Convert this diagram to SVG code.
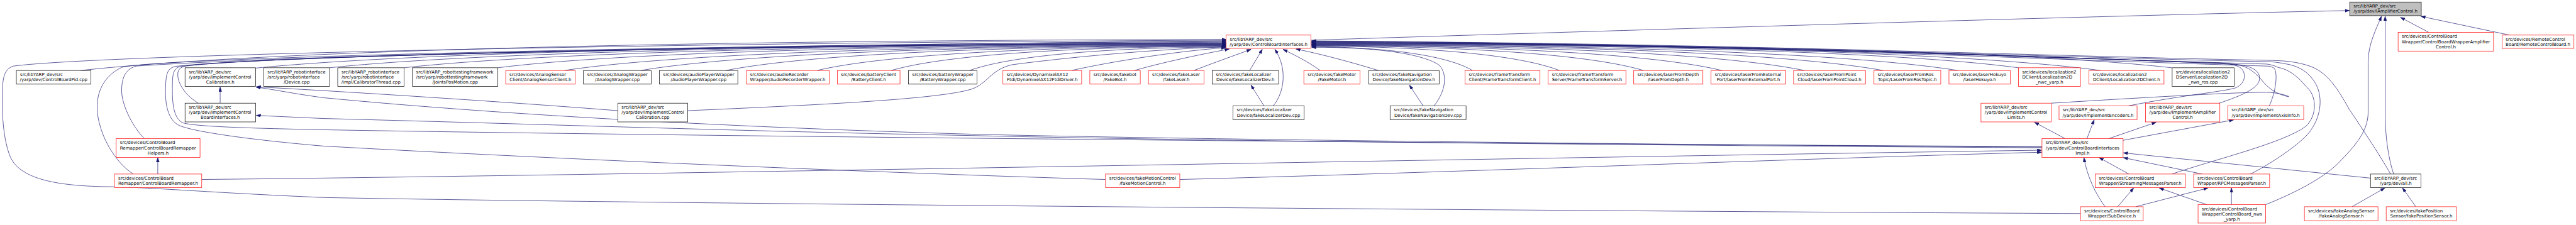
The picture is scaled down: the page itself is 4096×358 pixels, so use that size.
<svg xmlns="http://www.w3.org/2000/svg" width="4096" height="358" viewBox="0 0 4096 358">
<style>
.n rect{fill:#fff;stroke-width:1.3}
.n rect.r{stroke:#ff0000}
.n rect.b{stroke:#000}
.n rect.g{fill:#bfbfbf;stroke:#000}
.n text{font-family:"DejaVu Sans","Liberation Sans",sans-serif;font-size:13px;fill:#000}
.n text.c{text-anchor:middle}
#edges path{fill:none;stroke:#191970;stroke-width:1.3;marker-end:url(#ah)}
</style>
<defs>
<marker id="ah" markerUnits="userSpaceOnUse" markerWidth="14" markerHeight="10" refX="13" refY="4.5" orient="auto">
<path d="M0,0 L13,4.5 L0,9 z" fill="#191970" stroke="#191970" stroke-width="1"/>
</marker>
</defs>
<rect x="0" y="0" width="4096" height="358" fill="#fff"/>
<g transform="scale(0.54187)">
<g id="edges">
<path d="M236,207 C740,152 1917,118 3598,116"/>
<path d="M750,200 C1177,157 2174,130 3598,128"/>
<path d="M967,199 C1362,157 2283,131 3598,129"/>
<path d="M1186,199 C1548,158 2392,132 3598,130"/>
<path d="M1461,199 C1782,158 2530,133 3598,131"/>
<path d="M1656,207 C1947,162 2627,134 3598,132"/>
<path d="M1880,207 C2138,163 2739,135 3598,133"/>
<path d="M2130,207 C2350,163 2864,136 3598,134"/>
<path d="M2397,207 C2577,164 2998,137 3598,135"/>
<path d="M2615,207 C2762,164 3107,138 3598,136"/>
<path d="M2845,207 C2958,166 3222,140 3598,138"/>
<path d="M3144,207 C3250,183 3450,150 3597,140"/>
<path d="M3329,207 C3400,186 3520,160 3607,144"/>
<path d="M3503,207 C3560,185 3630,160 3671,145"/>
<path d="M3667,207 L3704,145"/>
<path d="M3736,311 C3770,270 3778,200 3741,145"/>
<path d="M3709,311 L3671,250"/>
<path d="M3874,207 C3840,182 3800,162 3765,145"/>
<path d="M4045,207 C3950,178 3860,155 3803,144"/>
<path d="M424,407 C395,380 355,310 357,262 C358,225 370,202 400,194 C900,160 2400,128 3598,122"/>
<path d="M391,511 C350,485 300,420 287,340 C278,280 300,225 357,198 C420,176 1500,140 3598,120"/>
<path d="M6105,627 C5000,622 2000,600 950,580 C600,565 450,550 303,548 C180,545 60,530 30,460 C5,400 5,300 8,250 C10,215 20,200 40,194 C300,160 2000,125 3598,118"/>
<path d="M3244,527 C2500,505 1500,460 950,429 C750,412 570,388 525,368 C490,350 484,300 486,255 C487,215 492,200 515,195 C800,160 2500,130 3598,124"/>
<path d="M5992,430 C4500,424 2000,400 950,381 C750,377 565,372 535,360 C508,345 505,300 506,250 C506,215 510,200 530,195 C800,160 2500,130 3598,126"/>
<path d="M582,303 C545,280 525,250 522,225 C520,205 527,198 545,194 C800,160 2500,130 3598,127"/>
<path d="M5992,432 C5000,426 3500,410 2850,394 C2200,375 1500,340 950,287 C860,275 800,262 752,256"/>
<path d="M5992,434 C5000,428 3500,414 2850,398 C2200,386 1500,362 950,348 C860,344 800,341 752,339"/>
<path d="M1813,325 C1500,300 1000,268 752,255"/>
<path d="M2018,325 C2400,308 2750,292 2850,262 C2900,245 2905,205 2970,190 C3200,160 3450,142 3597,138"/>
<path d="M646,303 L646,256"/>
<path d="M463,511 L463,463"/>
<path d="M592,527 C1800,515 4200,468 5991,441"/>
<path d="M3462,527 C4300,505 5300,465 5991,447"/>
<path d="M4321,207 C4250,165 4085,139 3849,137"/>
<path d="M4576,207 C4467,164 4212,137 3849,135"/>
<path d="M4823,207 C4677,163 4336,136 3849,134"/>
<path d="M5053,207 C4872,163 4451,135 3849,133"/>
<path d="M5295,207 C5078,162 4572,134 3849,132"/>
<path d="M5526,207 C5274,161 4688,133 3849,131"/>
<path d="M5745,207 C5461,161 4797,132 3849,130"/>
<path d="M5923,199 C5612,157 4886,131 3849,129"/>
<path d="M6164,207 C5817,160 5007,130 3849,128"/>
<path d="M6373,199 C5994,156 5111,129 3849,127"/>
<path d="M4208,311 C4240,270 4250,222 4224,192 C4180,160 4050,138 3849,139"/>
<path d="M4176,311 L4136,250"/>
<path d="M6245,311 C6400,280 6520,270 6560,258 C6592,245 6592,210 6573,198 C6555,188 6530,185 6500,184 C6000,170 5000,128 3849,124"/>
<path d="M6019,303 C6200,292 6560,270 6650,271 C6700,272 6740,292 6700,280 C6670,270 6655,255 6645,245 C6620,215 6600,195 6560,189 C6200,172 5000,128 3849,125"/>
<path d="M6512,303 C6580,280 6625,260 6630,235 C6635,205 6600,192 6560,189 C6200,172 5000,128 3849,126"/>
<path d="M6659,311 C6678,270 6685,215 6673,200 C6665,195 6658,194 6650,194 C6000,175 5000,128 3849,120"/>
<path d="M7015,511 C6980,450 6920,360 6893,320 C6860,260 6830,215 6783,196 C6740,180 6700,178 6650,177 C6000,165 5000,125 3849,121"/>
<path d="M6603,511 C6640,495 6760,420 6783,379 C6810,340 6820,280 6789,236 C6770,210 6750,198 6720,190 C6690,184 6670,181 6650,181 C6000,168 5000,126 3849,122"/>
<path d="M6373,511 C6500,468 6700,420 6766,371 C6800,340 6800,280 6766,253 C6740,220 6710,202 6685,198 C6670,191 6660,189 6650,188 C6000,170 5000,127 3849,123"/>
<path d="M3847,118 C4400,100 6200,45 6894,31"/>
<path d="M7127,95 L7044,51"/>
<path d="M7364,103 L7104,48"/>
<path d="M7024,511 C7010,470 7000,410 6999,340 L6999,48"/>
<path d="M6648,601 C6750,560 6830,515 6870,470 C6930,410 6949,370 6949,330 L6949,180 C6949,130 6975,80 6988,48"/>
<path d="M6956,523 L6231,449"/>
<path d="M6462,511 L6231,463"/>
<path d="M6247,511 L6160,463"/>
<path d="M6177,607 C6150,570 6125,520 6115,463"/>
<path d="M6214,607 L6261,552"/>
<path d="M6267,607 L6479,552"/>
<path d="M6476,601 L6336,552"/>
<path d="M6548,601 L6548,552"/>
<path d="M6902,607 L6998,552"/>
<path d="M7089,607 L7050,552"/>
<path d="M6060,407 L5970,359"/>
<path d="M6124,407 L6145,352"/>
<path d="M6188,407 L6327,359"/>
<path d="M6230,412 L6554,352"/>
</g>
<g id="n_iamp" class="n"><rect class="g" x="6895" y="6" width="210" height="40"/><text x="6906" y="22.5">src/libYARP_dev/src</text><text class="c" x="7000" y="37.5">/yarp/dev/IAmplifierControl.h</text></g>
<g id="n_cbi" class="n"><rect class="r" x="3598" y="103" width="249" height="39"/><text x="3609" y="119.5">src/libYARP_dev/src</text><text class="c" x="3722.5" y="134.5">/yarp/dev/ControlBoardInterfaces.h</text></g>
<g id="n_cbwamp" class="n"><rect class="r" x="7037" y="95" width="280" height="55"/><text x="7048" y="111.5">src/devices/ControlBoard</text><text x="7048" y="126.5">Wrapper/ControlBoardWrapperAmplifier</text><text class="c" x="7177" y="141.5">Control.h</text></g>
<g id="n_rcb" class="n"><rect class="r" x="7342" y="103" width="211" height="39"/><text x="7353" y="119.5">src/devices/RemoteControl</text><text class="c" x="7447.5" y="134.5">Board/RemoteControlBoard.h</text></g>
<g id="n_pid" class="n"><rect class="b" x="48" y="207" width="219" height="40"/><text x="59" y="223.5">src/libYARP_dev/src</text><text class="c" x="157.5" y="238.5">/yarp/dev/ControlBoardPid.cpp</text></g>
<g id="n_icc_h" class="n"><rect class="b" x="543" y="199" width="207" height="55"/><text x="554" y="215.5">src/libYARP_dev/src</text><text x="554" y="230.5">/yarp/dev/ImplementControl</text><text class="c" x="646.5" y="245.5">Calibration.h</text></g>
<g id="n_device" class="n"><rect class="b" x="774" y="199" width="193" height="55"/><text x="785" y="215.5">src/libYARP_robotinterface</text><text x="785" y="230.5">/src/yarp/robotinterface</text><text class="c" x="870.5" y="245.5">/Device.cpp</text></g>
<g id="n_calib" class="n"><rect class="b" x="991" y="199" width="195" height="55"/><text x="1002" y="215.5">src/libYARP_robotinterface</text><text x="1002" y="230.5">/src/yarp/robotinterface</text><text class="c" x="1088.5" y="245.5">/impl/CalibratorThread.cpp</text></g>
<g id="n_jpm" class="n"><rect class="b" x="1210" y="199" width="251" height="55"/><text x="1221" y="215.5">src/libYARP_robottestingframework</text><text x="1221" y="230.5">/src/yarp/robottestingframework</text><text class="c" x="1335.5" y="245.5">/JointsPosMotion.cpp</text></g>
<g id="n_asc" class="n"><rect class="r" x="1484" y="207" width="204" height="40"/><text x="1495" y="223.5">src/devices/AnalogSensor</text><text class="c" x="1586" y="238.5">Client/AnalogSensorClient.h</text></g>
<g id="n_aw" class="n"><rect class="b" x="1712" y="207" width="199" height="40"/><text x="1723" y="223.5">src/devices/AnalogWrapper</text><text class="c" x="1811.5" y="238.5">/AnalogWrapper.cpp</text></g>
<g id="n_apw" class="n"><rect class="b" x="1935" y="207" width="230" height="40"/><text x="1946" y="223.5">src/devices/audioPlayerWrapper</text><text class="c" x="2050" y="238.5">/AudioPlayerWrapper.cpp</text></g>
<g id="n_arw" class="n"><rect class="r" x="2190" y="207" width="243" height="40"/><text x="2201" y="223.5">src/devices/audioRecorder</text><text class="c" x="2311.5" y="238.5">Wrapper/AudioRecorderWrapper.h</text></g>
<g id="n_bc" class="n"><rect class="r" x="2457" y="207" width="184" height="40"/><text x="2468" y="223.5">src/devices/batteryClient</text><text class="c" x="2549" y="238.5">/BatteryClient.h</text></g>
<g id="n_bw" class="n"><rect class="b" x="2666" y="207" width="201" height="40"/><text x="2677" y="223.5">src/devices/batteryWrapper</text><text class="c" x="2766.5" y="238.5">/BatteryWrapper.cpp</text></g>
<g id="n_dyn" class="n"><rect class="r" x="2943" y="207" width="231" height="40"/><text x="2954" y="223.5">src/devices/DynamixelAX12</text><text class="c" x="3058.5" y="238.5">Ftdi/DynamixelAX12FtdiDriver.h</text></g>
<g id="n_fbot" class="n"><rect class="r" x="3198" y="207" width="148" height="40"/><text x="3209" y="223.5">src/devices/fakebot</text><text class="c" x="3272" y="238.5">/FakeBot.h</text></g>
<g id="n_flaser" class="n"><rect class="r" x="3370" y="207" width="163" height="40"/><text x="3381" y="223.5">src/devices/fakeLaser</text><text class="c" x="3451.5" y="238.5">/fakeLaser.h</text></g>
<g id="n_floch" class="n"><rect class="b" x="3557" y="207" width="195" height="40"/><text x="3568" y="223.5">src/devices/fakeLocalizer</text><text class="c" x="3654.5" y="238.5">Device/fakeLocalizerDev.h</text></g>
<g id="n_fmotor" class="n"><rect class="r" x="3826" y="207" width="165" height="40"/><text x="3837" y="223.5">src/devices/fakeMotor</text><text class="c" x="3908.5" y="238.5">/FakeMotor.h</text></g>
<g id="n_fnavh" class="n"><rect class="b" x="4016" y="207" width="207" height="40"/><text x="4027" y="223.5">src/devices/fakeNavigation</text><text class="c" x="4119.5" y="238.5">Device/fakeNavigationDev.h</text></g>
<g id="n_ftc" class="n"><rect class="r" x="4299" y="207" width="220" height="40"/><text x="4310" y="223.5">src/devices/frameTransform</text><text class="c" x="4409" y="238.5">Client/FrameTransformClient.h</text></g>
<g id="n_fts" class="n"><rect class="r" x="4543" y="207" width="228" height="40"/><text x="4554" y="223.5">src/devices/frameTransform</text><text class="c" x="4657" y="238.5">Server/FrameTransformServer.h</text></g>
<g id="n_lfd" class="n"><rect class="r" x="4794" y="207" width="203" height="40"/><text x="4805" y="223.5">src/devices/laserFromDepth</text><text class="c" x="4895.5" y="238.5">/laserFromDepth.h</text></g>
<g id="n_lfep" class="n"><rect class="r" x="5021" y="207" width="219" height="40"/><text x="5032" y="223.5">src/devices/laserFromExternal</text><text class="c" x="5130.5" y="238.5">Port/laserFromExternalPort.h</text></g>
<g id="n_lfpc" class="n"><rect class="r" x="5263" y="207" width="211" height="40"/><text x="5274" y="223.5">src/devices/laserFromPoint</text><text class="c" x="5368.5" y="238.5">Cloud/laserFromPointCloud.h</text></g>
<g id="n_lfrt" class="n"><rect class="r" x="5499" y="207" width="196" height="40"/><text x="5510" y="223.5">src/devices/laserFromRos</text><text class="c" x="5597" y="238.5">Topic/LaserFromRosTopic.h</text></g>
<g id="n_lh" class="n"><rect class="r" x="5719" y="207" width="180" height="40"/><text x="5730" y="223.5">src/devices/laserHokuyo</text><text class="c" x="5809" y="238.5">/laserHokuyo.h</text></g>
<g id="n_l2dnwc" class="n"><rect class="r" x="5923" y="199" width="182" height="55"/><text x="5934" y="215.5">src/devices/localization2</text><text x="5934" y="230.5">DClient/Localization2D</text><text class="c" x="6014" y="245.5">_nwc_yarp.h</text></g>
<g id="n_l2dc" class="n"><rect class="r" x="6130" y="207" width="220" height="40"/><text x="6141" y="223.5">src/devices/localization2</text><text class="c" x="6240" y="238.5">DClient/Localization2DClient.h</text></g>
<g id="n_l2dnws" class="n"><rect class="b" x="6374" y="199" width="182" height="55"/><text x="6385" y="215.5">src/devices/localization2</text><text x="6385" y="230.5">DServer/Localization2D</text><text class="c" x="6465" y="245.5">_nws_ros.cpp</text></g>
<g id="n_icbi" class="n"><rect class="b" x="543" y="303" width="207" height="55"/><text x="554" y="319.5">src/libYARP_dev/src</text><text x="554" y="334.5">/yarp/dev/ImplementControl</text><text class="c" x="646.5" y="349.5">BoardInterfaces.h</text></g>
<g id="n_icc_cpp" class="n"><rect class="b" x="1813" y="303" width="205" height="55"/><text x="1824" y="319.5">src/libYARP_dev/src</text><text x="1824" y="334.5">/yarp/dev/ImplementControl</text><text class="c" x="1915.5" y="349.5">Calibration.cpp</text></g>
<g id="n_flocc" class="n"><rect class="b" x="3618" y="311" width="209" height="40"/><text x="3629" y="327.5">src/devices/fakeLocalizer</text><text class="c" x="3722.5" y="342.5">Device/fakeLocalizerDev.cpp</text></g>
<g id="n_fnavc" class="n"><rect class="b" x="4079" y="311" width="223" height="40"/><text x="4090" y="327.5">src/devices/fakeNavigation</text><text class="c" x="4190.5" y="342.5">Device/fakeNavigationDev.cpp</text></g>
<g id="n_icl" class="n"><rect class="r" x="5813" y="303" width="206" height="55"/><text x="5824" y="319.5">src/libYARP_dev/src</text><text x="5824" y="334.5">/yarp/dev/ImplementControl</text><text class="c" x="5916" y="349.5">Limits.h</text></g>
<g id="n_ienc" class="n"><rect class="r" x="6042" y="311" width="229" height="40"/><text x="6053" y="327.5">src/libYARP_dev/src</text><text class="c" x="6156.5" y="342.5">/yarp/dev/ImplementEncoders.h</text></g>
<g id="n_iamc" class="n"><rect class="r" x="6296" y="303" width="218" height="55"/><text x="6307" y="319.5">src/libYARP_dev/src</text><text x="6307" y="334.5">/yarp/dev/ImplementAmplifier</text><text class="c" x="6405" y="349.5">Control.h</text></g>
<g id="n_iaxis" class="n"><rect class="r" x="6537" y="311" width="223" height="40"/><text x="6548" y="327.5">src/libYARP_dev/src</text><text class="c" x="6648.5" y="342.5">/yarp/dev/ImplementAxisInfo.h</text></g>
<g id="n_helpers" class="n"><rect class="r" x="341" y="407" width="246" height="55"/><text x="352" y="423.5">src/devices/ControlBoard</text><text x="352" y="438.5">Remapper/ControlBoardRemapper</text><text class="c" x="464" y="453.5">Helpers.h</text></g>
<g id="n_cbiimpl" class="n"><rect class="r" x="5992" y="407" width="238" height="55"/><text x="6003" y="423.5">src/libYARP_dev/src</text><text x="6003" y="438.5">/yarp/dev/ControlBoardInterfaces</text><text class="c" x="6111" y="453.5">Impl.h</text></g>
<g id="n_remapper" class="n"><rect class="r" x="336" y="511" width="256" height="40"/><text x="347" y="527.5">src/devices/ControlBoard</text><text class="c" x="464" y="542.5">Remapper/ControlBoardRemapper.h</text></g>
<g id="n_fmc" class="n"><rect class="r" x="3244" y="511" width="218" height="40"/><text x="3255" y="527.5">src/devices/fakeMotionControl</text><text class="c" x="3353" y="542.5">/fakeMotionControl.h</text></g>
<g id="n_smp" class="n"><rect class="r" x="6148" y="511" width="265" height="40"/><text x="6159" y="527.5">src/devices/ControlBoard</text><text class="c" x="6280.5" y="542.5">Wrapper/StreamingMessagesParser.h</text></g>
<g id="n_rpc" class="n"><rect class="r" x="6437" y="511" width="223" height="40"/><text x="6448" y="527.5">src/devices/ControlBoard</text><text class="c" x="6548.5" y="542.5">Wrapper/RPCMessagesParser.h</text></g>
<g id="n_all" class="n"><rect class="b" x="6956" y="511" width="148" height="40"/><text x="6967" y="527.5">src/libYARP_dev/src</text><text class="c" x="7030" y="542.5">/yarp/dev/all.h</text></g>
<g id="n_subdev" class="n"><rect class="r" x="6105" y="607" width="184" height="41"/><text x="6116" y="623.5">src/devices/ControlBoard</text><text class="c" x="6197" y="638.5">Wrapper/SubDevice.h</text></g>
<g id="n_nws" class="n"><rect class="r" x="6450" y="601" width="198" height="54"/><text x="6461" y="617.5">src/devices/ControlBoard</text><text x="6461" y="632.5">Wrapper/ControlBoard_nws</text><text class="c" x="6549" y="647.5">_yarp.h</text></g>
<g id="n_fas" class="n"><rect class="r" x="6762" y="607" width="216" height="41"/><text x="6773" y="623.5">src/devices/fakeAnalogSensor</text><text class="c" x="6870" y="638.5">/fakeAnalogSensor.h</text></g>
<g id="n_fps" class="n"><rect class="r" x="7002" y="607" width="206" height="41"/><text x="7013" y="623.5">src/devices/fakePosition</text><text class="c" x="7105" y="638.5">Sensor/fakePositionSensor.h</text></g>
</g>
</svg>
